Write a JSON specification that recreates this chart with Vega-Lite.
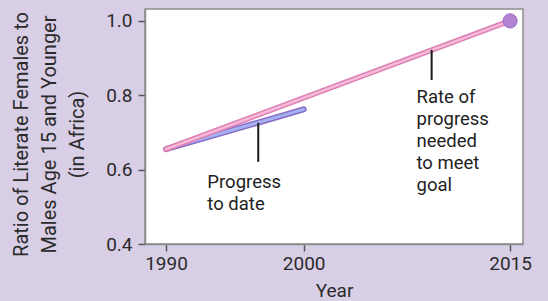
{
  "$schema": "https://vega.github.io/schema/vega-lite/v6.json",
  "width": 378,
  "height": 235,
  "autosize": {"type": "none"},
  "padding": {"left": 145, "top": 9, "right": 25, "bottom": 57},
  "background": "#d8cfe6",
  "config": {
    "font": "Roboto",
    "view": {"fill": "white", "stroke": "#8c8c8c", "strokeWidth": 1.5},
    "axis": {
      "domainColor": "#8c8c8c", "domainWidth": 1.5,
      "tickColor": "#555555", "tickWidth": 1.5, "tickSize": 7,
      "labelFont": "Roboto", "labelFontSize": 19, "labelColor": "#2b2b2b",
      "titleFont": "Roboto", "titleFontSize": 19, "titleColor": "#2b2b2b", "titleFontWeight": "normal",
      "grid": false
    }
  },
  "datasets": {
    "lines": [
      {"series": "Progress to date", "year": 1990, "ratio": 0.655},
      {"series": "Progress to date", "year": 2000, "ratio": 0.762},
      {"series": "Rate needed", "year": 1990, "ratio": 0.655},
      {"series": "Rate needed", "year": 2015, "ratio": 1.0}
    ],
    "goal": [{"year": 2015, "ratio": 1.0}],
    "notes": [
      {"label": ["Rate of", "progress", "needed", "to meet", "goal"], "year": 2008.2, "ratio": 0.795},
      {"label": ["Progress", "to date"], "year": 1993.0, "ratio": 0.567}
    ],
    "leaders": [
      {"year": 2009.3, "y1": 0.922, "y2": 0.841},
      {"year": 1996.7, "y1": 0.726, "y2": 0.621}
    ]
  },
  "layer": [
    {
      "data": {"name": "lines"},
      "transform": [{"filter": "datum.series == 'Progress to date'"}],
      "mark": {"type": "line", "stroke": "#8a6cc8", "strokeWidth": 6, "strokeCap": "round"},
      "encoding": {
        "x": {"field": "year", "type": "quantitative",
              "scale": {"domain": [1988.47, 2015.94], "nice": false, "zero": false},
              "axis": {"values": [1990, 2000, 2015], "format": "d", "title": "Year", "labelPadding": 3, "titlePadding": 8, "domain": true}},
        "y": {"field": "ratio", "type": "quantitative",
              "scale": {"domain": [0.4, 1.032], "nice": false, "zero": false},
              "axis": {"values": [0.4, 0.6, 0.8, 1.0], "format": ".1f", "labelPadding": 6,
                       "title": ["Ratio of Literate Females to", "Males Age 15 and Younger", "(in Africa)"],
                       "titleFontSize": 20, "titleLineHeight": 28, "titleX": -134, "titleY": 125, "titleAlign": "center", "titleBaseline": "top", "titleAngle": -90}}
      }
    },
    {
      "data": {"name": "lines"},
      "transform": [{"filter": "datum.series == 'Progress to date'"}],
      "mark": {"type": "line", "stroke": "#a3b2f0", "strokeWidth": 3, "strokeCap": "round"},
      "encoding": {
        "x": {"field": "year", "type": "quantitative"},
        "y": {"field": "ratio", "type": "quantitative"}
      }
    },
    {
      "data": {"name": "lines"},
      "transform": [{"filter": "datum.series == 'Rate needed'"}],
      "mark": {"type": "line", "stroke": "#dc7fb3", "strokeWidth": 5.5, "strokeCap": "round"},
      "encoding": {
        "x": {"field": "year", "type": "quantitative"},
        "y": {"field": "ratio", "type": "quantitative"}
      }
    },
    {
      "data": {"name": "lines"},
      "transform": [{"filter": "datum.series == 'Rate needed'"}],
      "mark": {"type": "line", "stroke": "#f6b9da", "strokeWidth": 2.5, "strokeCap": "round"},
      "encoding": {
        "x": {"field": "year", "type": "quantitative"},
        "y": {"field": "ratio", "type": "quantitative"}
      }
    },
    {
      "data": {"name": "goal"},
      "mark": {"type": "circle", "size": 200, "fill": "#b283d2", "opacity": 1, "stroke": "#9a6cc0", "strokeWidth": 1},
      "encoding": {
        "x": {"field": "year", "type": "quantitative"},
        "y": {"field": "ratio", "type": "quantitative"}
      }
    },
    {
      "data": {"name": "leaders"},
      "mark": {"type": "rule", "color": "#1a1a1a", "strokeWidth": 2},
      "encoding": {
        "x": {"field": "year", "type": "quantitative"},
        "y": {"field": "y1", "type": "quantitative"},
        "y2": {"field": "y2"}
      }
    },
    {
      "data": {"name": "notes"},
      "mark": {"type": "text", "align": "left", "baseline": "middle", "fontSize": 18.5, "lineHeight": 22, "color": "#222222", "font": "Roboto"},
      "encoding": {
        "x": {"field": "year", "type": "quantitative"},
        "y": {"field": "ratio", "type": "quantitative"},
        "text": {"field": "label"}
      }
    }
  ]
}
